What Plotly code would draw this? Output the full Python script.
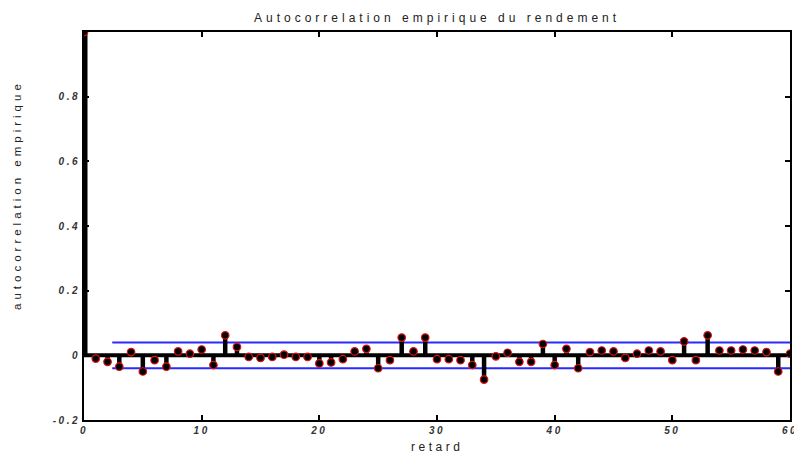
import plotly.graph_objects as go

# Empirical autocorrelation of returns, lags 0..60
lags = list(range(0, 61))
acf = [
    1.0,
    -0.010, -0.020, -0.035, 0.010, -0.050, -0.015, -0.035, 0.012, 0.005, 0.018,
    -0.030, 0.062, 0.026, -0.005, -0.008, -0.005, 0.002, -0.005, -0.005, -0.025,
    -0.022, -0.012, 0.012, 0.020, -0.040, -0.015, 0.055, 0.012, 0.055, -0.012,
    -0.012, -0.015, -0.030, -0.075, -0.003, 0.008, -0.020, -0.020, 0.035, -0.030,
    0.020, -0.040, 0.010, 0.015, 0.012, -0.008, 0.005, 0.015, 0.012, -0.015,
    0.043, -0.015, 0.062, 0.015, 0.015, 0.018, 0.015, 0.010, -0.050, 0.005,
]
# Confidence band
band = 0.04
band_x = [2.4, 60]

xticks = [0, 10, 20, 30, 40, 50, 60]
xticklabels = ["0", "10", "20", "30", "40", "50", "60"]
yticks = [-0.2, 0, 0.2, 0.4, 0.6, 0.8]
yticklabels = ["-0.2", "0", "0.2", "0.4", "0.6", "0.8"]

title_text = "Autocorrelation empirique du rendement"
xlabel_text = "retard"
ylabel_text = "autocorrelation empirique"

FONT = "Liberation Sans, Arial, sans-serif"


def spaced(s, px):
    return f'<span style="letter-spacing:{px}px">{s}</span>'


# stems built from the data with gaps between them
sx, sy = [], []
for k, v in zip(lags, acf):
    sx += [k, k, None]
    sy += [0, v, None]

fig = go.Figure()

# zero baseline
fig.add_trace(go.Scatter(x=[lags[0], lags[-1]], y=[0, 0], mode="lines",
                         line=dict(color="black", width=4), hoverinfo="skip",
                         showlegend=False))
# confidence limits
for s in (1, -1):
    fig.add_trace(go.Scatter(x=band_x, y=[s * band, s * band], mode="lines",
                             line=dict(color="#2a2aff", width=2),
                             hoverinfo="skip", showlegend=False))
# stems
fig.add_trace(go.Scatter(x=sx, y=sy, mode="lines",
                         line=dict(color="black", width=4.5),
                         hoverinfo="skip", showlegend=False))
# lag 0 stem is drawn heavier
fig.add_trace(go.Scatter(x=[lags[0], lags[0]], y=[0, acf[0]], mode="lines",
                         line=dict(color="black", width=7),
                         hoverinfo="skip", showlegend=False))
# stem heads
fig.add_trace(go.Scatter(x=lags, y=acf, mode="markers",
                         marker=dict(color="black", size=7.5,
                                     line=dict(color="#e01010", width=1.2)),
                         showlegend=False))

axis_common = dict(
    showgrid=False, zeroline=False, showline=True, linecolor="black",
    linewidth=2, mirror="ticks", ticks="inside", ticklen=5, tickwidth=1.5,
    tickcolor="black", ticklabeloverflow="allow", automargin=False,
    tickfont=dict(family=FONT, size=10, color="#333333", weight="bold",
                  style="italic"),
)

fig.update_xaxes(range=[0, 60], tickvals=xticks,
                 ticktext=[spaced(t, 2.5) for t in xticklabels], **axis_common)
fig.update_yaxes(range=[-0.2, 1.0], tickvals=yticks,
                 ticktext=[spaced(t, 2.5) for t in yticklabels], **axis_common)

fig.update_layout(
    width=794, height=457,
    margin=dict(l=84, r=4, t=32, b=37, autoexpand=False),
    paper_bgcolor="white", plot_bgcolor="white",
    showlegend=False,
    annotations=[
        dict(text=spaced(title_text, 4), xref="paper",
             yref="paper", x=0.5, y=1, yshift=5, xanchor="center",
             yanchor="bottom", showarrow=False,
             font=dict(family=FONT, size=12, color="#222222")),
        dict(text=spaced(xlabel_text, 3.5), xref="paper", yref="paper",
             x=0.5, y=0, yshift=-18, xanchor="center", yanchor="top",
             showarrow=False,
             font=dict(family=FONT, size=12, color="#222222")),
        dict(text=spaced(ylabel_text, 4), xref="paper", yref="paper",
             x=0, xshift=-67, y=0.58, xanchor="center", yanchor="middle",
             textangle=-90, showarrow=False,
             font=dict(family=FONT, size=11.5, color="#222222")),
    ],
)

fig.write_html("out.html")
